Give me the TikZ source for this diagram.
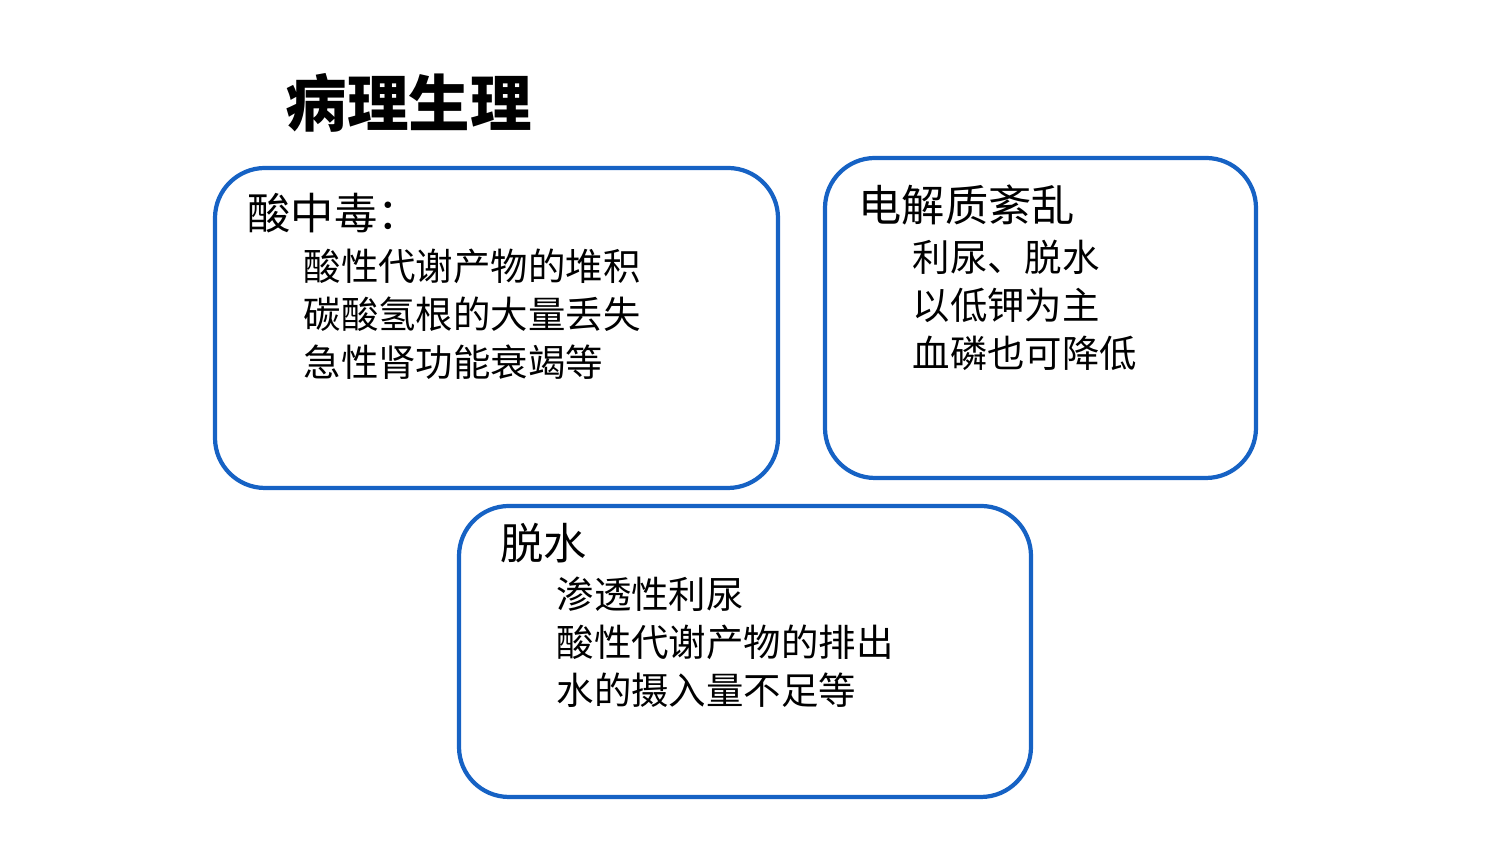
\documentclass[tikz,border=0pt]{standalone}
\usepackage{fontspec}
\setmainfont{Noto Sans CJK SC}
\tikzset{
  panel/.style={draw=boxblue, line width=1.2pt, rounded corners=0.5cm},
  head/.style={anchor=west, inner sep=0pt, font=\fontsize{12.3pt}{14pt}\selectfont},
  item/.style={anchor=west, inner sep=0pt, font=\fontsize{10.65pt}{13pt}\selectfont}
}
\definecolor{boxblue}{RGB}{22,98,196}
\begin{document}
\begin{tikzpicture}
\useasboundingbox (0,0) rectangle (15,8.44);
\node[anchor=west, inner sep=0pt, font=\fontsize{17.5pt}{20pt}\selectfont\bfseries] (title) at (2.85,7.41) {病理生理};
% acidosis
\draw[panel] (2.15,3.56) rectangle (7.78,6.76);
\node[head] (acid) at (2.47,6.31) {酸中毒：};
\node[item] (acid1) at (3.03,5.78) {酸性代谢产物的堆积};
\node[item] (acid2) at (3.03,5.30) {碳酸氢根的大量丢失};
\node[item] (acid3) at (3.03,4.82) {急性肾功能衰竭等};
% electrolytes
\draw[panel] (8.25,3.66) rectangle (12.56,6.86);
\node[head] (elec) at (8.58,6.39) {电解质紊乱};
\node[item] (elec1) at (9.12,5.87) {利尿、脱水};
\node[item] (elec2) at (9.12,5.39) {以低钾为主};
\node[item] (elec3) at (9.12,4.91) {血磷也可降低};
% dehydration
\draw[panel] (4.59,0.47) rectangle (10.31,3.38);
\node[head] (dehy) at (5.00,3.01) {脱水};
\node[item] (dehy1) at (5.56,2.50) {渗透性利尿};
\node[item] (dehy2) at (5.56,2.02) {酸性代谢产物的排出};
\node[item] (dehy3) at (5.56,1.54) {水的摄入量不足等};
\end{tikzpicture}
\end{document}
